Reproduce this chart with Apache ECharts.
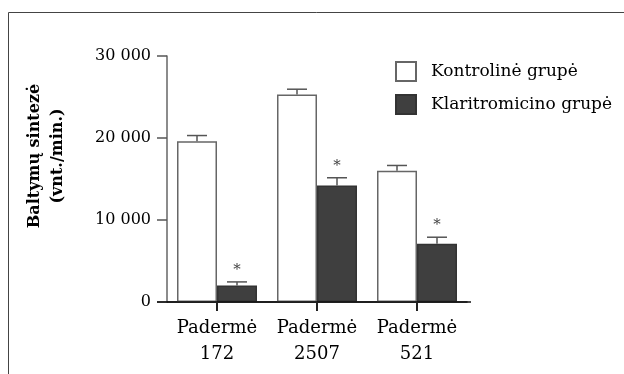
<!DOCTYPE html>
<html><head><meta charset="utf-8">
<script src="https://cdn.jsdelivr.net/npm/echarts@6/dist/echarts.min.js"></script>
<style>html,body{margin:0;padding:0;background:#fff}#c{width:624px;height:374px}</style>
</head><body><div id="c"></div>
<script>
const categories = ['Padermė\n172', 'Padermė\n2507', 'Padermė\n521'];
const controlValues = [19600, 25300, 16000];
const controlErrors = [700, 650, 650];
const clariValues = [2000, 14200, 7100];
const clariErrors = [450, 950, 800];
const clariSignificant = [true, true, true];
const seriesNames = ['Kontrolinė grupė', 'Klaritromicino grupė'];
const yTitle = 'Baltymų sintezė\n(vnt./min.)';

const FONT = 'DejaVu Serif';
const chart = echarts.init(document.getElementById('c'), null, {renderer: 'canvas'});

function errorSeries(values, errors, offsetSign, stars) {
  return {
    type: 'custom',
    silent: true,
    clip: false,
    z: 12,
    data: values.map((v, i) => [i, v, v + errors[i], stars ? (stars[i] ? 1 : 0) : 0]),
    renderItem: function (params, api) {
      const band = api.size([1, 0])[0];
      const base = api.coord([api.value(0), api.value(1)]);
      const top = api.coord([api.value(0), api.value(2)]);
      const x = base[0] + offsetSign * band * 0.2;
      const half = 10;
      const children = [
        {type: 'line', shape: {x1: x, y1: base[1], x2: x, y2: top[1]}, style: {stroke: '#555', lineWidth: 1.5}},
        {type: 'line', shape: {x1: x - half, y1: top[1], x2: x + half, y2: top[1]}, style: {stroke: '#555', lineWidth: 1.5}}
      ];
      if (api.value(3)) {
        children.push({type: 'text', style: {x: x, y: top[1] - 12, text: '*', fontFamily: FONT, fontSize: 15, fill: '#444', align: 'center', verticalAlign: 'middle'}});
      }
      return {type: 'group', children: children};
    }
  };
}

chart.setOption({
  animation: false,
  grid: {left: 167, right: 157, top: 56, bottom: 72},
  legend: {
    orient: 'vertical', left: 390, top: 56, itemWidth: 20, itemHeight: 19, itemGap: 12,
    icon: 'rect',
    textStyle: {fontFamily: FONT, fontSize: 17, color: '#000', padding: [0, 0, 0, 10]},
    data: seriesNames
  },
  xAxis: {
    type: 'category', data: categories,
    axisLine: {show: true, lineStyle: {color: '#111', width: 1.5}},
    axisTick: {show: false},
    axisLabel: {interval: 0, hideOverlap: false, fontFamily: FONT, fontSize: 18, color: '#000', lineHeight: 26, margin: 13}
  },
  yAxis: {
    type: 'value', min: 0, max: 30000, interval: 10000,
    splitLine: {show: false},
    axisLine: {show: true, lineStyle: {color: '#666', width: 1.5}},
    axisTick: {show: true, length: 10, lineStyle: {color: '#555', width: 1.5}},
    axisLabel: {fontFamily: FONT, fontSize: 16, color: '#000', margin: 16,
      formatter: v => String(v).replace(/\B(?=(\d{3})+(?!\d))/g, ' ')}
  },
  series: [
    {name: seriesNames[0], type: 'bar', data: controlValues, barWidth: 40, barGap: '0%', barCategoryGap: '20%',
     itemStyle: {color: '#ffffff', borderColor: '#666', borderWidth: 1.5}},
    {name: seriesNames[1], type: 'bar', data: clariValues, barWidth: 40,
     itemStyle: {color: '#3f3f3f', borderColor: '#333', borderWidth: 1.5}},
    errorSeries(controlValues, controlErrors, -1, null),
    errorSeries(clariValues, clariErrors, 1, clariSignificant)
  ]
});

const p0 = chart.convertToPixel({gridIndex: 0}, [0, 0]);
const graphics = [
  {type: 'line', z: 10, shape: {x1: 157, y1: p0[1], x2: 471, y2: p0[1]}, style: {stroke: '#111', lineWidth: 1.5}},
  {type: 'rect', z: 0, shape: {x: 8.5, y: 12.5, width: 700, height: 500}, style: {fill: 'none', stroke: '#444', lineWidth: 1}},
  {type: 'text', x: 46, y: 156, rotation: Math.PI / 2,
   style: {text: yTitle, fontFamily: FONT, fontSize: 16, fontWeight: 'bold', fill: '#000', lineHeight: 23, align: 'center', verticalAlign: 'middle'}}
];
categories.forEach((c, i) => {
  const p = chart.convertToPixel({gridIndex: 0}, [i, 0]);
  graphics.push({type: 'rect', z: 20, shape: {x: p[0] - 1, y: p[1], width: 2, height: 9}, style: {fill: '#222'}});
});
chart.setOption({graphic: graphics});
</script>
</body></html>
